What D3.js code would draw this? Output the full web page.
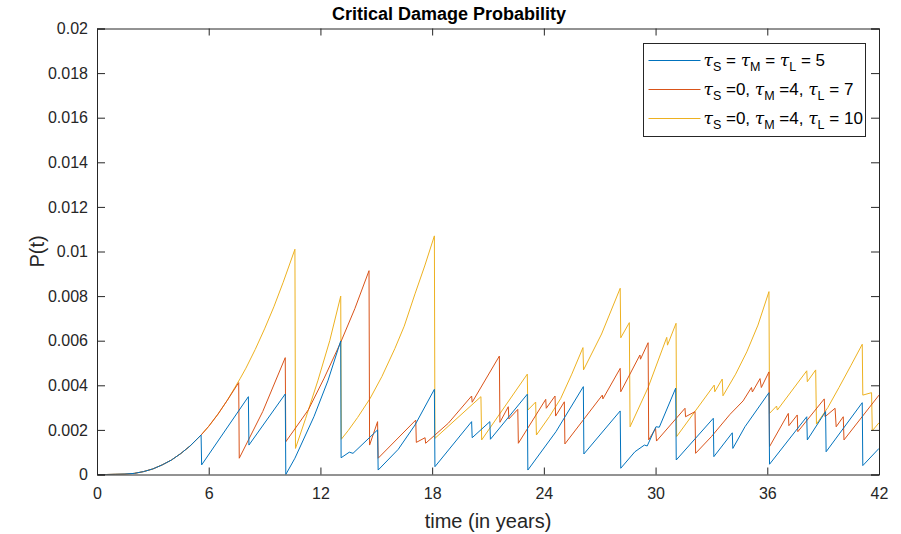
<!DOCTYPE html>
<html>
<head>
<meta charset="utf-8">
<script src="https://cdn.jsdelivr.net/npm/d3@7"></script>
<style>
  body { margin: 0; background: #fff; }
  svg { display: block; font-family: Arial, "Liberation Sans", Helvetica, sans-serif; }
</style>
</head>
<body>
<svg id="chart" width="901" height="534"></svg>
<script>
// values (time in years, probability)
var blueT = [0, 0.5, 1, 1.5, 2, 2.5, 3, 3.5, 4, 4.5, 5, 5.59, 5.62, 8.13, 8.16, 10.11, 10.14, 10.63, 11.65, 12.4, 13.09, 13.11, 13.55, 13.75, 15.07, 15.1, 16.18, 17.08, 18.12, 18.15, 20.12, 20.15, 21.1, 21.13, 23.11, 23.14, 24.65, 26.12, 26.15, 28.1, 28.13, 28.89, 29.4, 29.55, 30.02, 30.2, 31.08, 31.11, 33.1, 33.13, 34.12, 34.15, 34.8, 36.09, 36.12, 38.12, 38.15, 39.13, 39.16, 41.1, 41.13, 42];
var blueP = [0, 0, 0.00001, 0.00002, 0.00005, 0.00013, 0.00025, 0.00043, 0.00065, 0.00094, 0.00128, 0.00177, 0.00043, 0.00349, 0.00132, 0.00361, 0, 0.00073, 0.00259, 0.0042, 0.00599, 0.00075, 0.001, 0.00095, 0.002, 0.0002, 0.00113, 0.00222, 0.00382, 0.00035, 0.00237, 0.00165, 0.00237, 0.00158, 0.0036, 0.0002, 0.00192, 0.00394, 0.00092, 0.00285, 0.00028, 0.00102, 0.00132, 0.00128, 0.00214, 0.00212, 0.00387, 0.00065, 0.00252, 0.0008, 0.00187, 0.00117, 0.00214, 0.00367, 0.00046, 0.00259, 0.00155, 0.00282, 0.00102, 0.00322, 0.0004, 0.00117];

var orangeT = [0, 0.5, 1, 1.5, 2, 2.5, 3, 3.5, 4, 4.5, 5, 5.59, 6, 6.5, 7, 7.61, 7.64, 8.9, 10.11, 10.14, 10.7, 11.35, 12.2, 13.09, 13.85, 14.61, 14.64, 15.07, 15.1, 17.12, 17.15, 17.62, 17.65, 18.87, 20.12, 20.15, 21.61, 21.64, 22.09, 22.12, 22.6, 22.63, 24.1, 24.13, 24.6, 24.63, 25.1, 25.13, 27.14, 27.17, 28.1, 28.13, 29.16, 29.19, 29.6, 29.63, 30.0, 30.05, 31.58, 31.61, 32.12, 32.15, 33, 34, 34.7, 35.15, 35.2, 35.61, 35.68, 36.09, 36.12, 37.13, 37.16, 37.61, 37.64, 39.06, 39.1, 39.64, 39.7, 40.08, 40.12, 42];
var orangeP = [0, 0, 0.00001, 0.00002, 0.00005, 0.00013, 0.00025, 0.00043, 0.00065, 0.00094, 0.00128, 0.00177, 0.00216, 0.00271, 0.00333, 0.00412, 0.00073, 0.00282, 0.00524, 0.00147, 0.00213, 0.0029, 0.00432, 0.00593, 0.00744, 0.00914, 0.00132, 0.00237, 0.00073, 0.00244, 0.00144, 0.00165, 0.0014, 0.0023, 0.00352, 0.00324, 0.00531, 0.00234, 0.00304, 0.00249, 0.00292, 0.0014, 0.00337, 0.00297, 0.00352, 0.00262, 0.00326, 0.00137, 0.00356, 0.00339, 0.00476, 0.00371, 0.00536, 0.00517, 0.00591, 0.00155, 0.00207, 0.0015, 0.00297, 0.00259, 0.00282, 0.00095, 0.0017, 0.0027, 0.0033, 0.0039, 0.0037, 0.0043, 0.0039, 0.0046, 0.00125, 0.00274, 0.00219, 0.00267, 0.00192, 0.00339, 0.00259, 0.00297, 0.00214, 0.00259, 0.00155, 0.00356];

var yellowT = [0, 0.5, 1, 1.5, 2, 2.5, 3, 3.5, 4, 4.5, 5, 5.59, 6, 6.5, 7, 7.68, 8, 8.5, 9, 9.5, 10, 10.63, 10.66, 11.2, 11.86, 12.5, 13.09, 13.12, 13.5, 14, 14.66, 15.3, 16, 16.5, 17.08, 17.6, 18.12, 18.15, 20.62, 20.66, 23.11, 23.14, 23.56, 23.6, 24.3, 24.9, 25.5, 26.1, 26.13, 27.1, 28.1, 28.13, 28.59, 28.63, 29.6, 30.6, 30.64, 31.1, 31.13, 33.15, 33.18, 33.58, 33.62, 34.3, 34.9, 35.5, 36.09, 36.12, 36.5, 36.54, 38.12, 38.15, 38.6, 38.64, 39.25, 39.85, 40.5, 41.1, 41.13, 41.6, 41.64, 42];
var yellowP = [0, 0, 0.00001, 0.00002, 0.00005, 0.00013, 0.00025, 0.00043, 0.00065, 0.00094, 0.00128, 0.00177, 0.00216, 0.00271, 0.00333, 0.00429, 0.00477, 0.00561, 0.00653, 0.00752, 0.00862, 0.0101, 0.00117, 0.0025, 0.0042, 0.006, 0.008, 0.00158, 0.00198, 0.00256, 0.0034, 0.00439, 0.00565, 0.00665, 0.0081, 0.00935, 0.0107, 0.00162, 0.00349, 0.00155, 0.0045, 0.00289, 0.00325, 0.00177, 0.0026, 0.0034, 0.0045, 0.00569, 0.00469, 0.0063, 0.00835, 0.00613, 0.00681, 0.00214, 0.0039, 0.00615, 0.0058, 0.00678, 0.0017, 0.00401, 0.00371, 0.00428, 0.00353, 0.0045, 0.0055, 0.0067, 0.0082, 0.00274, 0.00307, 0.00289, 0.00465, 0.00416, 0.00469, 0.00226, 0.003, 0.0039, 0.0049, 0.00584, 0.00356, 0.00367, 0.00196, 0.00232];

var seriesColors = ["#0072BD", "#D95319", "#EDB120"];
var xTicks = [0, 6, 12, 18, 24, 30, 36, 42];
var yTicks = [0, 0.002, 0.004, 0.006, 0.008, 0.01, 0.012, 0.014, 0.016, 0.018, 0.02];

var margin = { top: 28.5, left: 97 };
var width = 782, height = 446;
var axisColor = "#262626";

var svg = d3.select("#chart");
var g = svg.append("g").attr("transform", "translate(" + margin.left + "," + margin.top + ")");

var x = d3.scaleLinear().domain([0, 42]).range([0, width]);
var y = d3.scaleLinear().domain([0, 0.02]).range([height, 0]);

function fmtY(d) { return d === 0 ? "0" : String(+d.toFixed(3)); }

// clip so lines stay inside the box
g.append("clipPath").attr("id", "clip").append("rect").attr("width", width).attr("height", height);

var plot = g.append("g").attr("clip-path", "url(#clip)");
var line = d3.line().x(function (d) { return x(d[0]); }).y(function (d) { return y(d[1]); });

var allSeries = [d3.zip(blueT, blueP), d3.zip(orangeT, orangeP), d3.zip(yellowT, yellowP)];
// yellow first so blue sits on top, like the reference
[2, 1, 0].forEach(function (i) {
    plot.append("path")
        .datum(allSeries[i])
        .attr("fill", "none")
        .attr("stroke", seriesColors[i])
        .attr("stroke-width", 1)
        .attr("stroke-linejoin", "round")
        .attr("d", line);
});

// axes, ticks inside, mirrored on top and right
var xAxis = g.append("g").attr("transform", "translate(0," + height + ")")
    .call(d3.axisBottom(x).tickValues(xTicks).tickSize(-7).tickPadding(15).tickFormat(d3.format("d")));
var xTop = g.append("g")
    .call(d3.axisTop(x).tickValues(xTicks).tickSize(-7).tickFormat(""));
var yAxis = g.append("g")
    .call(d3.axisLeft(y).tickValues(yTicks).tickSize(-8).tickPadding(9).tickFormat(fmtY));
var yRight = g.append("g").attr("transform", "translate(" + width + ",0)")
    .call(d3.axisRight(y).tickValues(yTicks).tickSize(-8).tickFormat(""));

[xAxis, xTop, yAxis, yRight].forEach(function (a) {
    a.select(".domain").attr("stroke", axisColor).attr("stroke-width", 1);
    a.selectAll(".tick line").attr("stroke", axisColor);
    a.selectAll(".tick text").attr("fill", axisColor).attr("font-size", 16);
});
xAxis.selectAll(".tick text").attr("dy", "0.6em");

// title and labels
svg.append("text").attr("x", 449).attr("y", 20).attr("text-anchor", "middle")
    .attr("font-weight", "bold").attr("font-size", 18).attr("fill", "#000")
    .text("Critical Damage Probability");
svg.append("text").attr("x", margin.left + width / 2).attr("y", 528).attr("text-anchor", "middle")
    .attr("font-size", 20).attr("fill", axisColor).text("time (in years)");
svg.append("text").attr("transform", "translate(44," + (margin.top + height / 2) + ") rotate(-90)")
    .attr("text-anchor", "middle").attr("font-size", 20).attr("fill", axisColor).text("P(t)");

// legend
var legendRows = [
    [["S", " = "], ["M", " = "], ["L", " = 5"]],
    [["S", " =0, "], ["M", " =4, "], ["L", " = 7"]],
    [["S", " =0, "], ["M", " =4, "], ["L", " = 10"]]
];
var legend = svg.append("g").attr("transform", "translate(643.5,43.5)");
legend.append("rect").attr("width", 222).attr("height", 93)
    .attr("fill", "#fff").attr("stroke", axisColor).attr("stroke-width", 1);

legendRows.forEach(function (row, i) {
    var ry = 17 + i * 29;
    legend.append("line").attr("x1", 5).attr("x2", 57).attr("y1", ry).attr("y2", ry)
        .attr("stroke", seriesColors[i]).attr("stroke-width", 1);
    var t = legend.append("text").attr("x", 60).attr("y", ry + 5)
        .attr("font-size", 17).attr("fill", "#000");
    row.forEach(function (part) {
        t.append("tspan").attr("font-style", "italic").attr("font-family", "'DejaVu Serif', serif").text("\u03C4");
        t.append("tspan").attr("font-size", 12.5).attr("dy", 5).text(part[0]);
        t.append("tspan").attr("dy", -5).text(part[1]);
    });
});
</script>
</body>
</html>
